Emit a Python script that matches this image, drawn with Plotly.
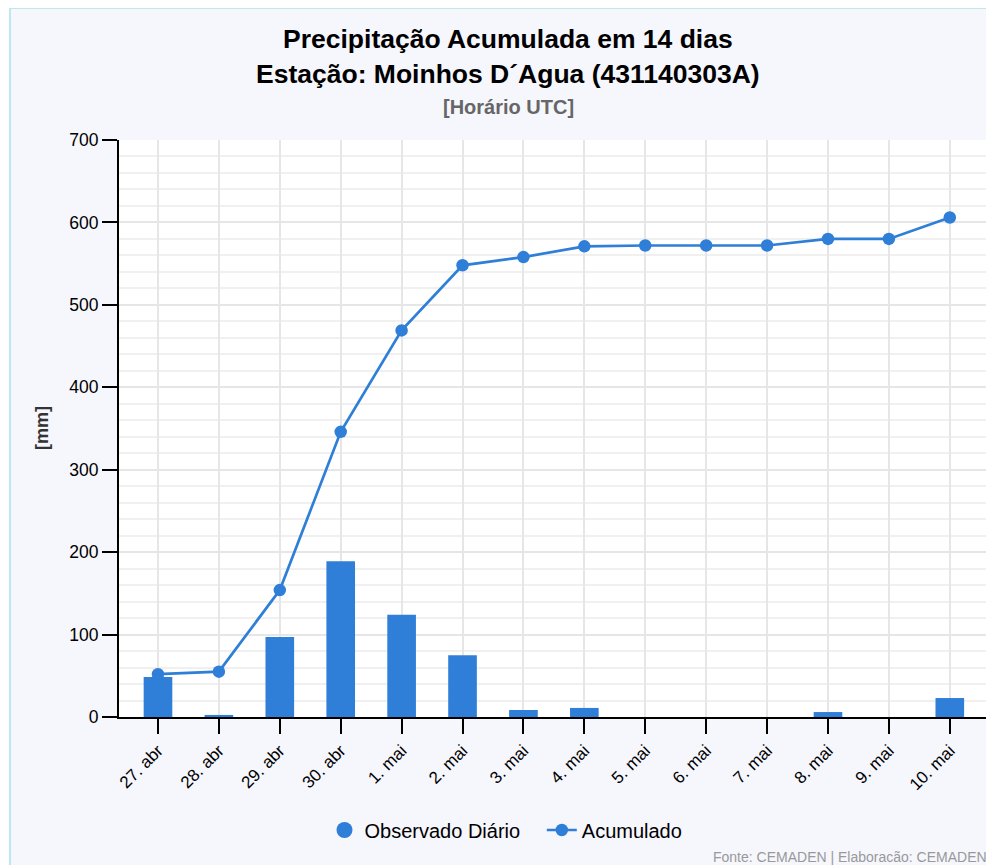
import plotly.graph_objects as go

categories = ["27. abr", "28. abr", "29. abr", "30. abr", "1. mai", "2. mai", "3. mai",
              "4. mai", "5. mai", "6. mai", "7. mai", "8. mai", "9. mai", "10. mai"]
observado_diario = [48.5, 2.5, 97, 189, 124, 75, 8.5, 11, 0, 0, 0, 6, 0, 23]
acumulado = [52, 55, 154, 346, 469, 548, 558, 571, 572, 572, 572, 580, 580, 606]
y_ticks = [0, 100, 200, 300, 400, 500, 600, 700]

BLUE = "#2f7ed8"
FONT = "Liberation Sans, Arial, sans-serif"

OFF = 8  # page body margin
W, H = 994 - OFF, 865 - OFF
L = 119 - OFF
T = 140 - OFF
R = W - (990 - OFF)
B = H - (717 - OFF)
pw, ph = W - L - R, H - T - B


def px_x(px):
    """reference page pixel -> paper x"""
    return (px - OFF - L) / pw


def px_y(py):
    """reference page pixel -> paper y"""
    return (H - B - (py - OFF)) / ph


fig = go.Figure()

fig.add_trace(go.Bar(
    x=categories, y=observado_diario, marker=dict(color=BLUE, line=dict(width=0)),
    showlegend=False, name="Observado Diário", width=0.47,
))
fig.add_trace(go.Scatter(
    x=categories, y=acumulado, mode="lines+markers", name="Acumulado",
    line=dict(color=BLUE, width=2.7), marker=dict(size=12.5, color=BLUE),
))
# legend entry for daily observations (circle symbol, as in reference)
fig.add_trace(go.Scatter(
    x=[None], y=[None], mode="markers", name="Observado Diário\u00a0\u00a0\u00a0",
    marker=dict(size=20, color=BLUE, symbol="circle"),
))

fig.update_layout(
    width=W, height=H,
    margin=dict(l=L, r=R, t=T, b=B),
    paper_bgcolor="#ffffff",
    plot_bgcolor="#ffffff",
    font=dict(family=FONT, size=17, color="#000000"),
    legend=dict(orientation="h", x=px_x(506), xanchor="center", y=px_y(830), yanchor="middle",
                font=dict(size=20, color="#000000"), bgcolor="rgba(0,0,0,0)",
                traceorder="reversed", itemsizing="trace"),
    xaxis=dict(
        type="category", range=[-0.64, 13.66],
        showline=True, linecolor="#000000", linewidth=2,
        ticks="outside", ticklen=15, tickwidth=2, tickcolor="#000000",
        tickangle=-45, tickfont=dict(size=17, color="#000000"),
        showgrid=True, gridcolor="#e6e6e6", gridwidth=2,
        zeroline=False,
    ),
    yaxis=dict(
        range=[0, 700], tickvals=y_ticks,
        showline=True, linecolor="#000000", linewidth=2,
        ticks="outside", ticklen=15, tickwidth=2, tickcolor="#000000",
        tickfont=dict(size=17.5, color="#000000"),
        showgrid=True, gridcolor="#e6e6e6", gridwidth=2,
        minor=dict(dtick=20, showgrid=True, gridcolor="#f0f0f0", gridwidth=1.5),
        zeroline=False,
    ),
    bargap=0.5,
)

# chart background frame (light lavender with cyan border)
fig.add_shape(type="rect", xref="paper", yref="paper",
              x0=px_x(10), x1=px_x(1010), y0=px_y(880), y1=px_y(8),
              fillcolor="#f6f6fd", line=dict(color="#bfe8ee", width=2), layer="below")
fig.add_shape(type="rect", xref="paper", yref="paper", x0=0, x1=1, y0=0, y1=1,
              fillcolor="#ffffff", line=dict(width=0), layer="below")
# plot-area right edge border
fig.add_shape(type="line", xref="paper", yref="paper", x0=1, x1=1, y0=0, y1=1,
              line=dict(color="#c8c8c8", width=2))

fig.add_annotation(text="<b>Precipitação Acumulada em 14 dias</b>", xref="paper", yref="paper",
                   x=px_x(508), y=px_y(39), showarrow=False, xanchor="center", yanchor="middle",
                   font=dict(size=26.5, color="#000000"))
fig.add_annotation(text="<b>Estação: Moinhos D´Agua (431140303A)</b>", xref="paper", yref="paper",
                   x=px_x(508), y=px_y(74), showarrow=False, xanchor="center", yanchor="middle",
                   font=dict(size=26.5, color="#000000"))
fig.add_annotation(text="<b>[Horário UTC]</b>", xref="paper", yref="paper",
                   x=px_x(508), y=px_y(107), showarrow=False, xanchor="center", yanchor="middle",
                   font=dict(size=20, color="#666666"))
fig.add_annotation(text="<b>[mm]</b>", xref="paper", yref="paper",
                   x=px_x(42), y=px_y(428), showarrow=False, textangle=-90,
                   xanchor="center", yanchor="middle", font=dict(size=18, color="#333333"))
fig.add_annotation(text="Fonte: CEMADEN | Elaboracão: CEMADEN", xref="paper", yref="paper",
                   x=px_x(989), y=px_y(857), showarrow=False, xanchor="right", yanchor="middle",
                   font=dict(size=14, color="#999999"))

fig.write_html("out.html")
